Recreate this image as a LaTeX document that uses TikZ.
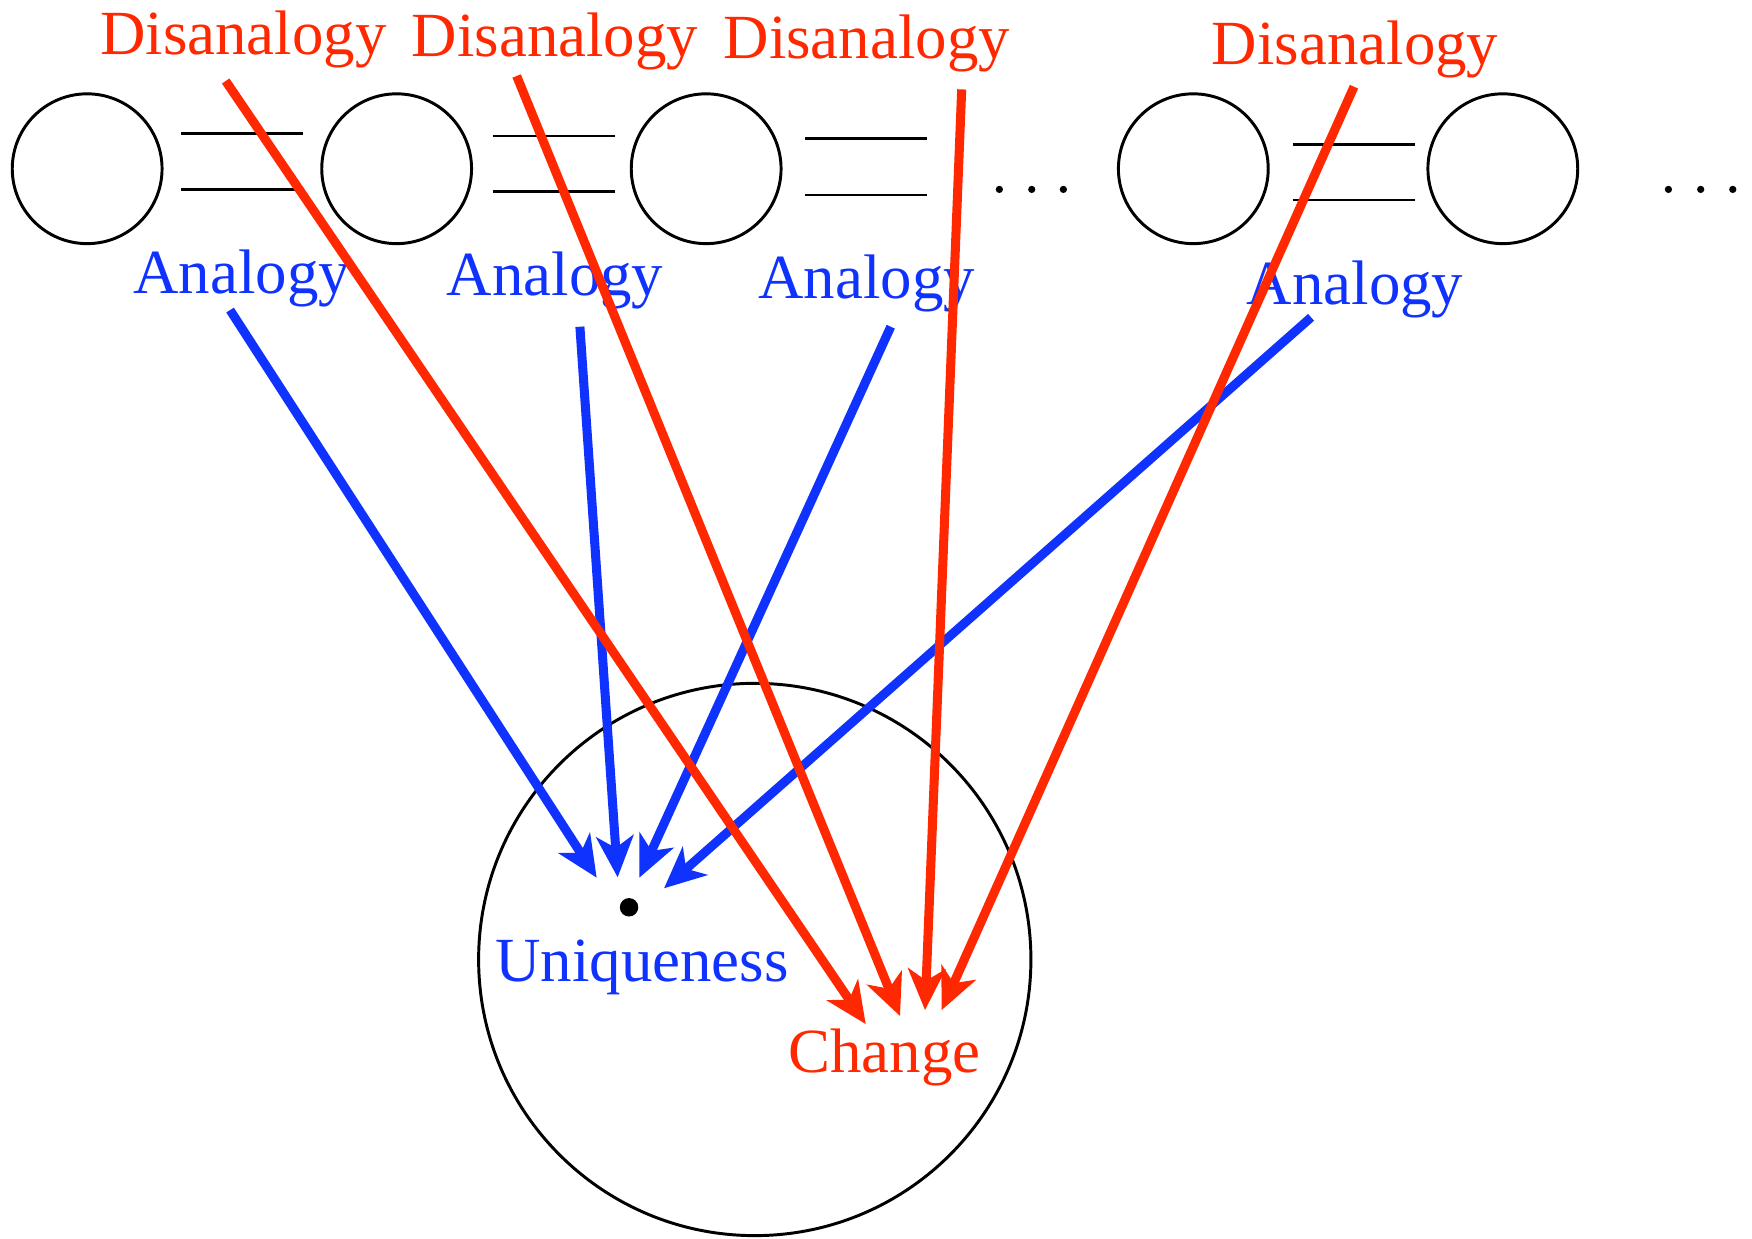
\documentclass[tikz,border=0pt]{standalone}
\usepackage{fontspec}
\setmainfont{Liberation Serif}
\usetikzlibrary{arrows.meta}
\definecolor{dred}{RGB}{255,40,0}
\definecolor{dblue}{RGB}{16,50,255}
\begin{document}
\begin{tikzpicture}[x=0.01cm,y=-0.01cm,
  eqline/.style={line width=0.75pt, black},
  ring/.style={circle, draw=black, line width=0.75pt, minimum size=1.34cm, inner sep=0pt},
  bigring/.style={circle, draw=black, line width=0.75pt, minimum size=4.94cm, inner sep=0pt},
  lbl/.style={font=\fontsize{16}{19}\selectfont, inner sep=0pt, anchor=base},
  dis/.style={lbl, text=dred},
  ana/.style={lbl, text=dblue},
  dotmark/.style={circle, fill=black, inner sep=0pt, minimum size=0.065cm},
  tipstyle/.style={-{Stealth[length=10.5pt,width=9.5pt,inset=3pt]}},
  redarrow/.style={draw=dred, line width=2.3pt, tipstyle},
  bluearrow/.style={draw=dblue, line width=2.3pt, tipstyle}
]
\useasboundingbox (0,0) rectangle (1568,1108);

% top row of circles
\node[ring] (c1) at (78,151) {};
\node[ring] (c2) at (355,151) {};
\node[ring] (c3) at (632,151) {};
\node[ring] (c4) at (1068,151) {};
\node[ring] (c5) at (1345,151) {};

% equal signs
\draw[eqline] (162,119.3) -- (271,119.3);
\draw[eqline] (162,169.5) -- (271,169.5);
\draw[eqline] (441,121.7) -- (550,121.7);
\draw[eqline] (441,171.8) -- (550,171.8);
\draw[eqline] (720.5,124.1) -- (829.4,124.1);
\draw[eqline] (720.5,174.5) -- (829.4,174.5);
\draw[eqline] (1157,128.9) -- (1266.5,128.9);
\draw[eqline] (1157,179) -- (1266.5,179);

% ellipsis dots
\node[dotmark] (e1a) at (894.4,169.5) {};
\node[dotmark] (e1b) at (923.4,169.5) {};
\node[dotmark] (e1c) at (951.7,169.5) {};
\node[dotmark] (e2a) at (1493.2,169.5) {};
\node[dotmark] (e2b) at (1522.1,169.5) {};
\node[dotmark] (e2c) at (1550.8,169.5) {};

% big circle and centre dot
\node[bigring] (big) at (675.5,858.7) {};
\node[circle, fill=black, inner sep=0pt, minimum size=0.165cm] (cdot) at (563,812) {};

% labels
\node[dis] (d1) at (217.8,49.2) {Disanalogy};
\node[dis] (d2) at (496.8,50.7) {Disanalogy};
\node[dis] (d3) at (775.8,52.2) {Disanalogy};
\node[dis] (d4) at (1212.8,57.6) {Disanalogy};
\node[ana] (a1) at (216.3,262.5) {Analogy};
\node[ana] (a2) at (496.8,264.9) {Analogy};
\node[ana] (a3) at (775.7,267) {Analogy};
\node[ana] (a4) at (1212.8,272.1) {Analogy};
\node[ana] (uniq) at (574.7,878.6) {Uniqueness};
\node[dis] (chg) at (791.6,960) {Change};

% arrow end points
\coordinate (d1s) at (202,72.5);
\coordinate (d2s) at (462.4,68);
\coordinate (d3s) at (860.7,80);
\coordinate (d4s) at (1211.8,77.6);
\coordinate (a1s) at (205.9,277.5);
\coordinate (a2s) at (519,292.4);
\coordinate (a3s) at (797.2,292.4);
\coordinate (a4s) at (1173.4,284);
\coordinate (u1) at (534,785.5);
\coordinate (u2) at (552.8,785.2);
\coordinate (u3) at (572.2,785.5);
\coordinate (u4) at (594.3,795);
\coordinate (h1) at (774.8,916.5);
\coordinate (h2) at (805.5,909.3);
\coordinate (h3) at (827.9,904);
\coordinate (h4) at (842.8,904);

% analogy arrows
\draw[bluearrow] (a1s) -- (u1);
\draw[bluearrow] (a2s) -- (u2);
\draw[bluearrow] (a3s) -- (u3);
\draw[bluearrow] (a4s) -- (u4);

% disanalogy arrows
\draw[redarrow] (d1s) -- (h1);
\draw[redarrow] (d2s) -- (h2);
\draw[redarrow] (d3s) -- (h3);
\draw[redarrow] (d4s) -- (h4);
\end{tikzpicture}
\end{document}
